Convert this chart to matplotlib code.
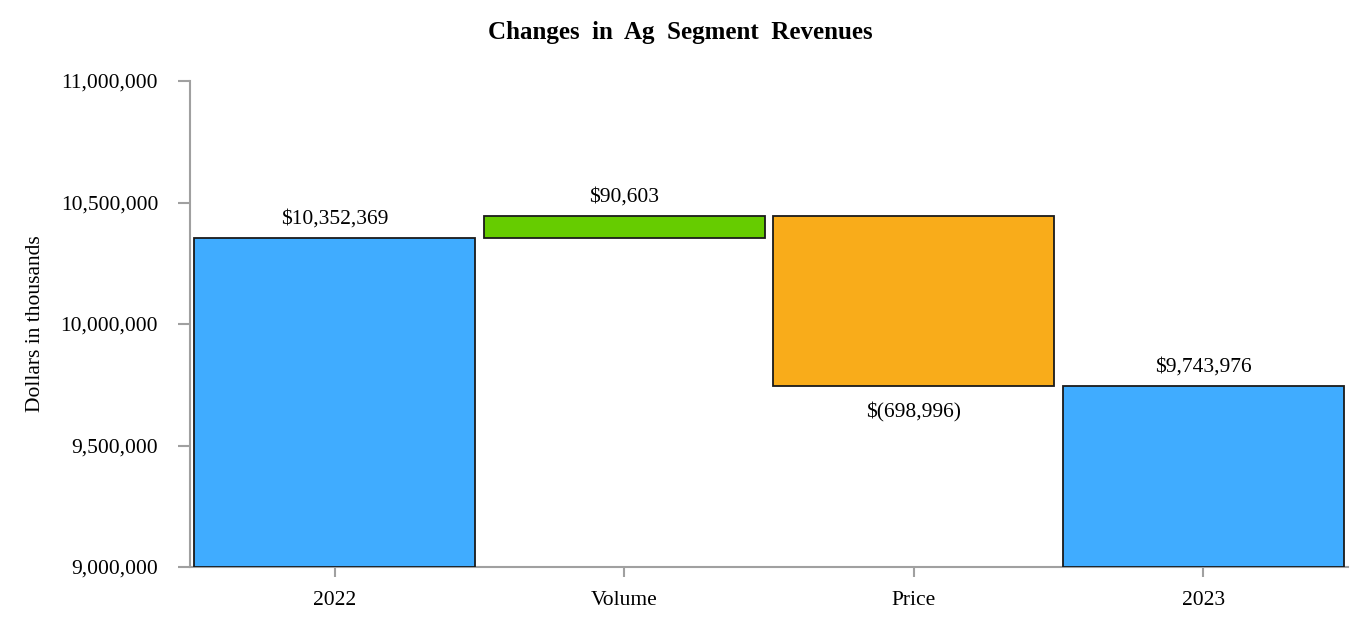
"""Waterfall chart of Ag segment revenue changes."""

import matplotlib.pyplot as plt
from matplotlib.ticker import FuncFormatter

categories = ["2022", "Volume", "Price", "2023"]
start_value = 10352369
changes = [90603, -698996]
end_value = 9743976
bar_colors = ["#40ACFF", "#66CC00", "#F9AC1A", "#40ACFF"]
value_labels = ["$10,352,369", "$90,603", "$(698,996)", "$9,743,976"]
y_ticks = [9000000, 9500000, 10000000, 10500000, 11000000]

plt.rcParams["font.family"] = ["Liberation Serif", "DejaVu Serif"]
axis_gray = "#A0A0A0"

# bottoms and heights for the floating bars
bottoms, heights = [9000000], [start_value - 9000000]
running = start_value
for c in changes:
    bottoms.append(min(running, running + c))
    heights.append(abs(c))
    running += c
bottoms.append(9000000)
heights.append(end_value - 9000000)

fig = plt.figure(figsize=(13.68, 6.26), dpi=100)
ax = fig.add_axes([190 / 1368, 1 - 567 / 626, (1348 - 190) / 1368, (567 - 81) / 626])

x = range(len(categories))
ax.bar(x, heights, bottom=bottoms, width=0.97, color=bar_colors,
       edgecolor="#1a1a1a", linewidth=1.3, zorder=3)

for i, (b, h, lab) in enumerate(zip(bottoms, heights, value_labels)):
    if i == 2:
        ax.annotate(lab, (i, b), xytext=(0, -12), textcoords="offset points",
                    ha="center", va="top", fontsize=15.5)
    else:
        ax.annotate(lab, (i, b + h), xytext=(0, 7), textcoords="offset points",
                    ha="center", va="bottom", fontsize=15.5)

ax.set_xlim(-0.5, 3.5)
ax.set_ylim(9000000, 11000000)
ax.set_xticks(list(x))
ax.set_xticklabels(categories, fontsize=15.5)
ax.set_yticks(y_ticks)
ax.yaxis.set_major_formatter(FuncFormatter(lambda v, p: f"{int(v):,}"))
ax.tick_params(axis="y", labelsize=15.5, length=9, width=1.5, color=axis_gray, pad=14)
ax.tick_params(axis="x", length=7, width=1.5, color=axis_gray, pad=10)

for side in ["top", "right"]:
    ax.spines[side].set_visible(False)
for side in ["left", "bottom"]:
    ax.spines[side].set_color(axis_gray)
    ax.spines[side].set_linewidth(1.5)

ax.set_ylabel("Dollars in thousands", fontsize=15.5, labelpad=11)
fig.text(0.497, 0.948, "Changes  in  Ag  Segment  Revenues", ha="center", va="center",
         fontsize=18, fontweight="bold")

fig.savefig("out.png", dpi=100)
